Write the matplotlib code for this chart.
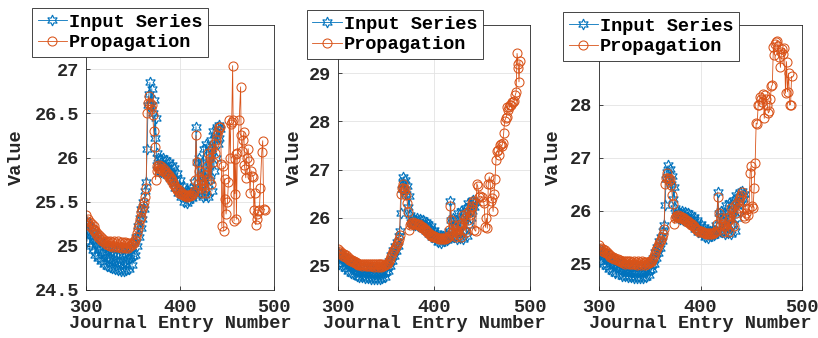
import numpy as np
import matplotlib
matplotlib.use("Agg")
import matplotlib.pyplot as plt

# ---------------- data ----------------
# input series (same in all three panels), journal entries 300..443
input_x = list(range(300, 444))
input_vals = [
    25.28, 25.05, 25.18, 25.24, 25.00, 25.12, 25.20, 24.95, 25.08, 25.15,
    24.90, 25.02, 25.10, 24.86, 24.97, 25.05, 24.83, 24.93, 25.02, 24.80,
    24.90, 24.99, 24.77, 24.87, 24.98, 24.76, 24.86, 24.97, 24.75, 24.85,
    24.96, 24.74, 24.84, 24.96, 24.73, 24.83, 24.95, 24.72, 24.84, 24.96,
    24.72, 24.83, 24.96, 24.73, 24.85, 24.97, 24.74, 24.86, 24.98, 24.78,
    24.88, 25.03, 24.90, 25.10, 25.00, 25.22, 25.10, 25.32, 25.20, 25.42,
    25.30, 25.50, 25.42, 25.62, 25.72, 26.10, 26.60, 26.72, 26.85, 26.60,
    26.78, 26.50, 26.65, 26.22, 26.45, 26.05, 25.92, 26.00, 25.85, 25.98,
    25.84, 25.92, 26.00, 25.82, 25.90, 25.97, 25.80, 25.88, 25.95, 25.77,
    25.84, 25.92, 25.73, 25.80, 25.88, 25.66, 25.75, 25.82, 25.60, 25.68,
    25.75, 25.55, 25.62, 25.68, 25.50, 25.57, 25.63, 25.48, 25.56, 25.62,
    25.52, 25.60, 25.66, 25.54, 25.62, 25.72, 25.58, 26.35, 25.95, 25.62,
    26.00, 25.60, 25.80, 25.95, 25.55, 26.10, 25.70, 25.58, 26.15, 25.85,
    25.55, 26.12, 25.75, 26.20, 25.62, 26.30, 25.85, 26.25, 26.00, 26.35,
    26.15, 26.37, 26.22, 26.32,
]

# propagation, shared part 300..441
prop_x = list(range(300, 442))
prop_vals = [
    25.35, 25.28, 25.30, 25.24, 25.27, 25.21, 25.25, 25.19, 25.22, 25.17,
    25.18, 25.13, 25.15, 25.10, 25.12, 25.08, 25.10, 25.06, 25.08, 25.04,
    25.06, 25.02, 25.05, 25.01, 25.04, 25.00, 25.05, 25.01, 25.04, 24.99,
    25.05, 25.00, 25.03, 24.99, 25.05, 25.00, 25.03, 24.98, 25.04, 24.99,
    25.03, 24.98, 25.04, 24.99, 25.03, 24.98, 25.03, 25.00, 25.02, 25.01,
    25.04, 25.03, 25.07, 25.10, 25.15, 25.20, 25.25, 25.30, 25.33, 25.38,
    25.42, 25.45, 25.50, 25.55, 25.65, 26.50, 26.62, 26.70, 26.62, 26.55,
    26.60, 26.48, 26.30, 26.12, 25.75, 25.85, 25.90, 25.88, 25.92, 25.87,
    25.90, 25.86, 25.88, 25.84, 25.86, 25.82, 25.83, 25.79, 25.80, 25.76,
    25.77, 25.73, 25.74, 25.70, 25.70, 25.67, 25.66, 25.63, 25.64, 25.60,
    25.62, 25.59, 25.60, 25.57, 25.58, 25.56, 25.57, 25.55, 25.58, 25.56,
    25.57, 25.56, 25.58, 25.57, 25.60, 25.62, 25.75, 26.25, 25.95, 25.70,
    25.85, 25.65, 25.75, 25.60, 25.70, 25.85, 25.65, 25.80, 25.60, 25.90,
    26.05, 25.75, 26.00, 25.70, 26.10, 25.95, 26.15, 26.05, 26.20, 26.25,
    26.30, 26.35,
]

# propagation tails, one per panel
tail1_x = [443, 444, 444.5, 446, 446.5, 447.5, 448, 449, 450.5, 451.5,
           452.5, 453.5, 454, 455, 456, 456.5, 457.5, 458, 458.5, 459.5,
           460, 461, 463, 464.5, 465, 466, 467, 468, 468.5, 469,
           470, 471, 472.5, 473.5, 474.5, 475.5, 477, 478, 478.5, 479.5,
           480.5, 481.5, 482, 483, 484.5, 485.5, 487, 488, 489, 490]
tail1_y = [26.35, 25.93, 25.22, 25.90, 25.17, 25.76, 25.53, 25.36, 25.50, 25.72,
           26.42, 26.00, 26.38, 26.40, 27.04, 26.42, 25.28, 25.98, 25.59, 26.04,
           25.30, 26.05, 26.43, 26.80, 26.25, 26.07, 26.20, 26.29, 25.91, 25.87,
           25.77, 26.00, 26.10, 25.96, 25.60, 25.85, 25.79, 25.78, 25.41, 25.60,
           25.24, 25.30, 25.36, 25.40, 25.41, 25.66, 26.06, 26.19, 25.42, 25.41]

tail2_x = [442, 443.5, 444.5, 445.5, 447, 448, 449.5, 451, 452, 453.5,
           454.5, 455.5, 456.5, 457.5, 458.5, 459.5, 460.5, 461.5, 462.5, 463.5,
           464.5, 465.5, 466.5, 467.5, 468.5, 469.5, 470.5, 471.5, 472.5, 473.5,
           474.5, 475.5, 476.5, 477.5, 478.5, 479.5, 480.5, 481.5, 482.5, 483.5,
           484.5, 485.5, 486.5, 487.5, 488, 488.5, 489.5]
tail2_y = [25.75, 25.72, 26.71, 26.65, 26.42, 26.45, 26.44, 26.35, 26.30, 25.80,
           25.99, 25.78, 26.71, 26.85, 26.70, 26.35, 26.40, 26.13, 26.50, 26.80,
           27.20, 27.38, 27.40, 27.30, 27.50, 27.52, 27.48, 27.55, 27.75, 28.00,
           28.06, 28.10, 28.30, 28.23, 28.30, 28.33, 28.35, 28.40, 28.41, 28.43,
           28.54, 28.60, 29.41, 29.20, 29.10, 28.82, 29.25]

tail3_x = [442, 443, 444, 445, 446, 447, 448, 449, 450, 451,
           452, 453, 454, 455, 456, 457, 458, 459, 460, 461,
           462, 463, 464, 465, 466, 467, 468, 469, 470, 471,
           472, 473, 474, 475, 476, 477, 478, 479, 480, 481,
           482, 483, 484, 485, 486, 487, 488, 489, 490]
tail3_y = [26.20, 25.90, 25.85, 25.96, 26.02, 25.92, 26.05, 26.71, 26.84, 26.08,
           26.05, 26.43, 26.90, 27.65, 27.63, 28.00, 27.99, 28.15, 28.10, 28.05,
           28.20, 27.74, 28.18, 28.10, 28.00, 27.84, 27.87, 28.10, 28.34, 28.37,
           29.09, 28.93, 29.15, 29.18, 29.20, 29.10, 28.90, 28.70, 29.00, 29.05,
           28.95, 29.06, 28.21, 28.81, 28.24, 28.59, 27.99, 28.00, 28.53]

tails = [(tail1_x, tail1_y), (tail2_x, tail2_y), (tail3_x, tail3_y)]
ylims = [(24.5, 27.5), (24.5, 30), (24.5, 29.5)]
yticks = [[24.5, 25, 25.5, 26, 26.5, 27], [25, 26, 27, 28, 29], [25, 26, 27, 28]]

# ---------------- style ----------------
BLUE = '#0072BD'
ORANGE = '#D95319'
TXT = '#262626'
FONT = 'Liberation Mono'
FS = 13.4

plt.rcParams['font.family'] = [FONT, 'DejaVu Sans Mono']
plt.rcParams['font.weight'] = 'bold'
plt.rcParams['font.size'] = FS

fig = plt.figure(figsize=(8.18, 3.38), dpi=100)

# axes boxes in pixels: left, right
boxes = [(86, 274), (338.3, 530), (599.3, 801.7)]
top_px, bot_px = 25, 290
ylabel_x = [-0.324, -0.184, -0.184]
legend_pos = [(32, 8), (306.7, 10), (563, 12)]

star = (6, 1, 0)

for i, (l, r) in enumerate(boxes):
    ax = fig.add_axes([l / 818, 1 - bot_px / 338, (r - l) / 818, (bot_px - top_px) / 338])
    tx, ty = tails[i]
    px = prop_x + tx
    py = prop_vals + ty

    ax.plot(input_x, input_vals, color=BLUE, lw=0.6, marker=star, ms=7.8,
            mfc='none', mec=BLUE, mew=0.8, label='Input Series')
    ax.plot(px, py, color=ORANGE, lw=0.6, marker='o', ms=6.5,
            mfc='none', mec=ORANGE, mew=0.75, label='Propagation')

    ax.set_xlim(300, 500)
    ax.set_ylim(*ylims[i])
    ax.set_xticks([300, 400, 500])
    ax.set_yticks(yticks[i])
    ax.set_yticklabels([f'{v:g}' for v in yticks[i]])

    ax.grid(True, color='#e3e3e3', lw=0.6)
    ax.set_axisbelow(True)
    for s in ax.spines.values():
        s.set_color(TXT)
        s.set_linewidth(0.6)
    ax.tick_params(direction='in', length=3, width=0.6, colors=TXT,
                   labelsize=FS, pad=5)
    ax.tick_params(axis='x', pad=6.5)
    for lab in ax.get_xticklabels() + ax.get_yticklabels():
        lab.set_fontweight('bold')

    ax.set_xlabel('Journal Entry Number', fontsize=FS, fontweight='bold', color=TXT)
    ax.set_ylabel('Value', fontsize=FS, fontweight='bold', color=TXT)
    ax.yaxis.set_label_coords(ylabel_x[i], 0.5)
    ax.xaxis.set_label_coords(0.5, -0.093)

    lx, ly = legend_pos[i]
    leg = ax.legend(loc='upper left', bbox_to_anchor=(lx / 818, 1 - ly / 338),
                    bbox_transform=fig.transFigure, fancybox=False,
                    framealpha=1, edgecolor=TXT, borderpad=0.3,
                    labelspacing=0.2, handlelength=1.6, handletextpad=0.1,
                    borderaxespad=0, numpoints=1,
                    prop={'family': FONT, 'weight': 'bold', 'size': FS})
    leg.get_frame().set_linewidth(0.6)
    leg.set_zorder(10)

fig.savefig('out.png', dpi=100)
